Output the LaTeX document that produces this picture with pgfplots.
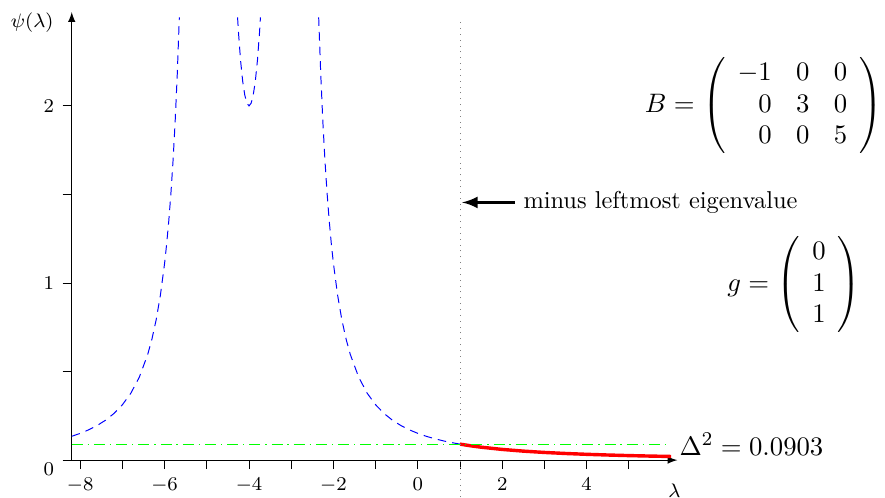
\documentclass[border=0pt]{standalone}
\usepackage{pgfplots}
\pgfplotsset{compat=1.18}
\usepackage{amsmath}
\begin{document}
\begin{tikzpicture}
\begin{axis}[
    x=17.3pt, y=72.6pt,
    xmin=-8.2, xmax=6.15, ymin=0, ymax=2.53,
    axis lines=left,
    axis line style={-latex},
    clip=false,
    tick align=outside,
    xtick={-8,-6,-4,-2,0,2,4},
    minor xtick={-7,-5,-3,-1,1,3,5},
    ytick={0,1,2},
    yticklabels={\raisebox{-6.4pt}[0pt][0pt]{$0$},$1$,$2$},
    minor ytick={0.5,1.5},
    major tick length=0.13cm, minor tick length=0.13cm,
    every tick/.style={black},
    tick label style={font=\fontsize{8.4}{10}\selectfont},
]
% psi(lambda) = 1/(lambda+3)^2 + 1/(lambda+5)^2, left branch
\addplot[blue, thin, dash pattern=on 3.5pt off 2.5pt] coordinates {
(-8.2,0.1346) (-8.0,0.1511) (-7.8,0.1710) (-7.6,0.1952) (-7.4,0.2253)
(-7.2,0.2633) (-7.0,0.3125) (-6.8,0.3779) (-6.6,0.4678) (-6.4,0.5967)
(-6.3,0.6836) (-6.2,0.7921) (-6.1,0.9305) (-6.0,1.1111) (-5.95,1.2229)
(-5.9,1.3535) (-5.85,1.5072) (-5.8,1.6901) (-5.75,1.9100) (-5.7,2.1780)
(-5.651,2.50)
};
% middle branch
\addplot[blue, thin, dash pattern=on 3.5pt off 2.5pt] coordinates {
(-4.271,2.50) (-4.25,2.4178) (-4.2,2.2569) (-4.15,2.1402) (-4.1,2.0610)
(-4.05,2.0151) (-4.0,2.0) (-3.95,2.0151) (-3.9,2.0610) (-3.85,2.1402)
(-3.8,2.2569) (-3.75,2.4178) (-3.729,2.50)
};
% right branch up to lambda = 1
\addplot[blue, thin, dash pattern=on 3.5pt off 2.5pt] coordinates {
(-2.349,2.50) (-2.3,2.1780) (-2.25,1.9100) (-2.2,1.6901) (-2.15,1.5072)
(-2.1,1.3535) (-2.05,1.2229) (-2.0,1.1111) (-1.9,0.9305) (-1.8,0.7921)
(-1.7,0.6836) (-1.6,0.5967) (-1.4,0.4678) (-1.2,0.3779) (-1.0,0.3125)
(-0.8,0.2633) (-0.6,0.2253) (-0.4,0.1952) (-0.2,0.1710) (0.0,0.1511)
(0.2,0.1346) (0.4,0.1208) (0.6,0.1090) (0.8,0.0990) (1.0,0.0903)
};
% feasible part
\addplot[red, line width=1.4pt] coordinates {
(1.0,0.0903) (1.25,0.0810) (1.5,0.0731) (2.0,0.0604) (2.5,0.0508)
(3.0,0.0434) (3.5,0.0375) (4.0,0.0328) (4.5,0.0289) (5.0,0.0256)
(5.5,0.0229) (6.0,0.0206)
};
% Delta^2 level
\addplot[green, thin, dash pattern=on 4.5pt off 2pt on 0.6pt off 2pt] coordinates {(-8.2,0.0903) (6.0,0.0903)};
% minus leftmost eigenvalue
\addplot[gray, dotted, thin] coordinates {(1,-0.21) (1,2.5)};

\node[anchor=east, font=\footnotesize] at (axis cs:-8.43,2.47) {$\psi(\lambda)$};
\node[font=\fontsize{8.4}{10}\selectfont] at (axis cs:6.08,-0.17) {$\lambda$};
\draw[-latex, very thick] (axis cs:2.3,1.455) -- (axis cs:1.05,1.455);
\node[anchor=west] at (axis cs:2.3,1.455) {minus leftmost eigenvalue};
\node[font=\fontsize{10.8}{13}\selectfont] at (axis cs:8.2,2.0)
  {$B = \left(\begin{array}{rrr} -1 & 0 & 0\\ 0 & 3 & 0\\ 0 & 0 & 5 \end{array}\right)$};
\node[font=\fontsize{10.8}{13}\selectfont] at (axis cs:8.92,0.99)
  {$g = \left(\begin{array}{c} 0\\ 1\\ 1 \end{array}\right)$};
\node[anchor=west, font=\fontsize{10.8}{13}\selectfont] at (axis cs:6.0,0.0903) {$\Delta^2 = 0.0903$};
\coordinate (bl) at (axis cs:-9.90,-0.213);
\coordinate (tr) at (axis cs:11.07,2.598);
\end{axis}
\pgfresetboundingbox
\path[use as bounding box] (bl) rectangle (tr);
\end{tikzpicture}
\end{document}
